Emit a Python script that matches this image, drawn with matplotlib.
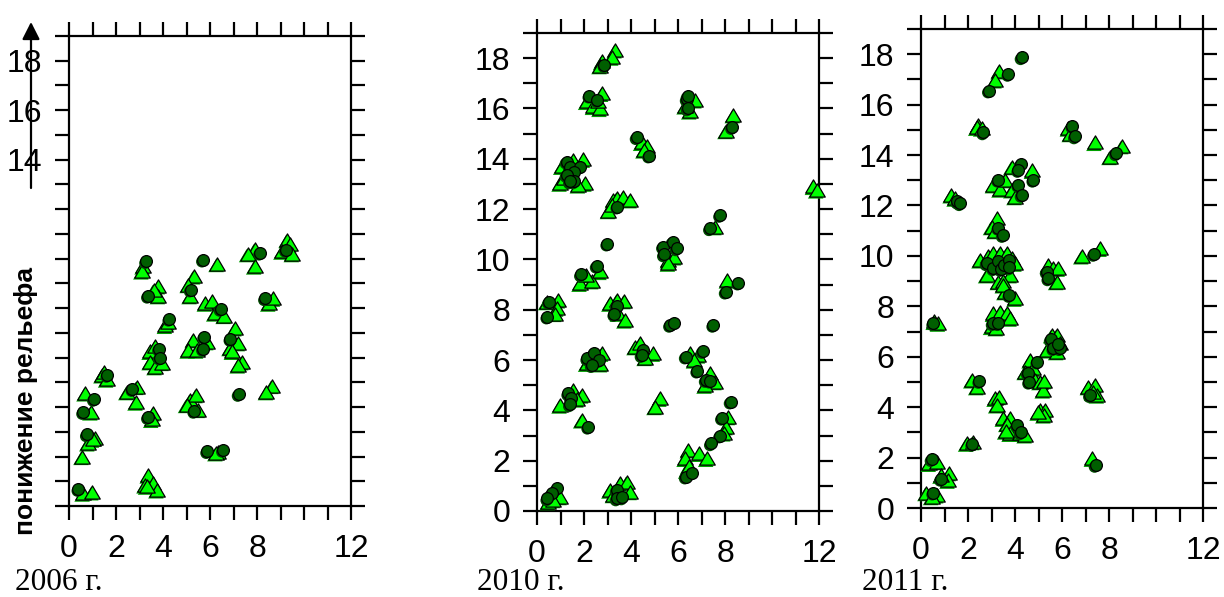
import matplotlib
matplotlib.use("Agg")
import matplotlib.pyplot as plt
from matplotlib.patches import FancyArrowPatch
from matplotlib.path import Path
from matplotlib.transforms import offset_copy

# ---- data: (distance, relief lowering) pairs per survey year ----
years = ["2006 г.", "2010 г.", "2011 г."]
xtick_labels = {0: "0", 2: "2", 4: "4", 6: "6", 8: "8", 12: "12"}
ylabel_text = "понижение рельефа"

circ_2006_x = [9.23, 8.13, 5.7, 3.28, 3.36, 5.18, 8.34, 6.45, 4.27, 6.87, 5.75, 5.7, 3.83, 3.87,
               1.63, 2.7, 7.22, 5.33, 3.36, 1.06, 0.6, 0.76, 5.88, 6.55, 0.4]
circ_2006_y = [10.36, 10.24, 9.96, 9.9, 8.5, 8.75, 8.4, 7.97, 7.57, 6.76, 6.85, 6.36, 6.36, 6.0,
               5.3, 4.73, 4.53, 3.85, 3.6, 4.33, 3.8, 2.9, 2.22, 2.27, 0.69]
tri_2006_x = [9.28, 9.4, 9.06, 9.5, 7.9, 7.6, 7.9, 6.3, 3.15, 3.1, 5.3, 5.07, 5.15, 3.8, 3.8,
              3.6, 8.5, 8.7, 5.8, 6.1, 6.2, 6.6, 4.1, 4.2, 7.06, 7.2, 6.85, 6.95, 7.35, 7.2,
              5.28, 5.86, 5.07, 5.43, 3.45, 3.66, 3.45, 3.66, 3.96, 1.4, 1.6, 1.5, 2.46, 2.88,
              2.85, 8.63, 8.4, 5.15, 5.4, 5.0, 5.5, 3.57, 3.52, 0.68, 0.93, 0.8, 1.1, 1.0, 0.55,
              6.35, 6.25, 3.37, 3.23, 3.58, 3.74, 3.3, 0.6, 0.97]
tri_2006_y = [10.77, 10.6, 10.3, 10.2, 10.4, 10.2, 9.7, 9.8, 9.7, 9.5, 9.3, 8.95, 8.5, 8.9, 8.5,
              8.75, 8.2, 8.4, 8.2, 8.27, 7.8, 7.7, 7.3, 7.45, 7.2, 6.6, 6.4, 6.25, 5.83, 5.7,
              6.72, 6.64, 6.3, 6.3, 6.25, 6.45, 5.83, 5.63, 5.8, 5.3, 5.13, 5.4, 4.62, 4.83,
              4.2, 4.87, 4.62, 4.3, 4.5, 4.1, 3.9, 3.76, 3.5, 4.57, 3.8, 2.55, 2.75, 2.7, 2.0,
              2.2, 2.15, 1.25, 0.85, 0.93, 0.65, 0.8, 0.52, 0.57]

circ_2010_x = [2.87, 2.23, 2.57, 6.37, 6.41, 6.41, 8.3, 4.24, 4.77, 1.26, 1.4, 1.83, 1.57, 1.26,
               1.57, 1.4, 3.42, 2.99, 5.36, 5.77, 5.94, 5.4, 7.36, 7.79, 8.57, 8.03, 1.87, 2.54,
               0.51, 0.44, 3.39, 3.29, 5.66, 5.83, 7.5, 4.52, 4.45, 2.14, 2.43, 2.64, 2.33, 6.33,
               7.05, 6.82, 7.18, 7.36, 1.33, 1.45, 1.4, 2.18, 8.24, 7.87, 7.79, 7.4, 6.33, 6.58,
               3.39, 3.39, 3.63, 0.84, 0.62, 0.44]
circ_2010_y = [17.73, 16.51, 16.34, 16.38, 16.5, 16.0, 15.26, 14.86, 14.13, 13.89, 13.69, 13.69,
               13.49, 13.36, 13.1, 13.1, 12.1, 10.63, 10.51, 10.71, 10.44, 10.2, 11.24, 11.77,
               9.08, 8.72, 9.41, 9.75, 8.32, 7.73, 8.15, 7.83, 7.4, 7.49, 7.4, 6.4, 6.2, 6.07,
               6.3, 6.0, 5.8, 6.14, 6.36, 5.58, 5.21, 5.18, 4.68, 4.48, 4.24, 3.35, 4.35, 3.71,
               3.0, 2.69, 1.37, 1.52, 0.83, 0.5, 0.54, 0.9, 0.7, 0.5]
tri_2010_x = [3.32, 3.18, 2.75, 2.68, 2.75, 2.11, 2.4, 2.68, 2.6, 6.72, 6.5, 6.3, 8.35, 8.04,
              4.45, 4.67, 4.55, 1.05, 1.55, 1.97, 0.98, 2.04, 1.76, 1.15, 3.04, 3.25, 3.39,
              3.67, 3.96, 3.18, 7.57, 5.59, 5.85, 5.59, 8.1, 1.83, 2.33, 2.68, 2.1, 11.76,
              11.9, 0.41, 0.91, 0.84, 0.75, 3.1, 3.39, 3.7, 3.46, 3.74, 4.17, 4.38, 4.95, 4.6,
              2.75, 2.11, 2.7, 6.51, 6.87, 6.7, 7.36, 7.57, 7.15, 0.98, 1.55, 1.9, 1.7, 5.23,
              5.02, 1.9, 8.14, 8.04, 7.95, 6.44, 6.3, 6.91, 7.22, 6.37, 6.45, 3.1, 3.53, 3.82,
              3.96, 3.25, 0.48, 0.98, 0.7]
tri_2010_y = [18.33, 18.04, 17.87, 17.7, 16.6, 16.28, 16.08, 16.0, 16.3, 16.34, 15.9, 16.1,
              15.75, 15.12, 14.65, 14.49, 14.35, 13.7, 13.96, 13.98, 13.03, 13.03, 12.96, 13.25,
              11.94, 12.37, 12.45, 12.5, 12.37, 12.15, 11.3, 9.98, 10.1, 9.85, 9.18, 9.05,
              9.15, 9.52, 9.4, 12.9, 12.76, 8.32, 8.39, 8.06, 7.85, 8.26, 8.39, 8.36, 7.86,
              7.59, 6.53, 6.67, 6.27, 6.1, 6.27, 5.87, 5.85, 6.27, 6.2, 6.0, 5.47, 5.14, 5.0,
              4.21, 4.81, 4.61, 4.45, 4.48, 4.15, 3.62, 3.75, 3.35, 3.1, 2.43, 2.09, 2.29, 2.09,
              1.62, 1.8, 0.83, 1.1, 1.17, 0.77, 0.65, 0.37, 0.57, 0.45]

circ_2011_x = [4.28, 3.72, 2.89, 2.65, 6.44, 6.55, 8.3, 4.24, 4.14, 3.29, 4.78, 4.14, 4.28, 1.55,
               1.66, 3.29, 3.48, 2.79, 3.08, 3.26, 3.4, 3.55, 3.76, 3.76, 5.35, 5.42, 7.36, 3.76,
               3.05, 3.29, 0.52, 5.52, 5.63, 5.91, 5.84, 4.95, 4.54, 4.6, 7.19, 7.43, 2.48, 4.1,
               4.24, 2.18, 0.45, 0.85, 0.52]
circ_2011_y = [17.88, 17.22, 16.56, 14.9, 15.16, 14.74, 14.07, 13.64, 13.41, 13.02, 13.02, 12.82,
               12.42, 12.16, 12.09, 11.12, 10.83, 9.71, 9.51, 9.78, 9.48, 9.64, 9.84, 9.54, 9.38,
               9.11, 10.08, 8.45, 7.33, 7.33, 7.33, 6.69, 6.34, 6.34, 6.5, 5.81, 5.37, 5.01,
               4.48, 1.71, 5.04, 3.29, 3.0, 2.54, 1.94, 1.16, 0.61]
tri_2011_x = [3.32, 3.15, 2.44, 2.37, 2.58, 6.27, 6.35, 7.4, 8.54, 8.04, 3.86, 4.74, 3.08, 3.36,
              3.57, 3.86, 4.0, 1.28, 1.45, 3.25, 3.0, 3.15, 2.51, 2.86, 3.08, 3.36, 3.64, 3.86,
              4.0, 2.79, 3.29, 3.79, 3.5, 5.42, 5.63, 5.84, 5.77, 6.84, 7.62, 3.57, 4.0, 3.5,
              3.08, 3.36, 3.64, 3.79, 3.0, 3.2, 0.56, 0.74, 5.56, 5.77, 5.35, 5.91, 5.77, 4.64,
              4.78, 4.43, 4.85, 5.06, 5.2, 5.25, 5.06, 5.28, 5.23, 4.98, 7.12, 7.4, 7.5, 7.3,
              7.29, 2.16, 2.37, 3.15, 3.33, 3.22, 3.5, 3.79, 3.65, 3.95, 3.79, 4.21, 4.43, 3.6,
              1.94, 2.2, 0.35, 0.67, 1.2, 1.15, 0.85, 0.21, 0.67, 0.45]
tri_2011_y = [17.34, 16.98, 15.2, 15.1, 15.07, 15.07, 14.85, 14.5, 14.37, 13.94, 13.54, 13.39,
              12.82, 12.65, 13.02, 12.62, 12.35, 12.42, 12.29, 11.49, 11.16, 11.0, 9.84, 10.0,
              10.1, 10.13, 10.1, 9.91, 9.71, 9.25, 8.98, 9.25, 9.0, 9.64, 9.51, 9.51, 8.98,
              10.0, 10.3, 8.58, 8.32, 8.85, 7.72, 7.78, 7.72, 7.53, 7.2, 7.15, 7.4, 7.33, 6.87,
              6.87, 6.27, 6.53, 6.2, 5.87, 5.54, 5.41, 5.08, 5.01, 4.68, 5.05, 3.89, 3.89, 3.69,
              3.8, 4.81, 4.88, 4.48, 4.6, 1.97, 5.08, 4.81, 4.35, 4.42, 4.09, 3.56, 3.56, 3.35,
              3.23, 2.96, 2.96, 2.9, 3.05, 2.57, 2.63, 1.77, 1.84, 1.4, 1.1, 1.3, 0.61, 0.52, 0.45]

panels = [
    (circ_2006_x, circ_2006_y, tri_2006_x, tri_2006_y),
    (circ_2010_x, circ_2010_y, tri_2010_x, tri_2010_y),
    (circ_2011_x, circ_2011_y, tri_2011_x, tri_2011_y),
]
# y tick labels shown on each panel
ylabel_sets = [[14, 16, 18], list(range(0, 19, 2)), list(range(0, 19, 2))]

W, H = 1224, 597
fig = plt.figure(figsize=(W / 100, H / 100), dpi=100)

# axes boxes in pixels: left, top, right, bottom
boxes = [(69, 36, 351, 506), (537, 33, 819, 511), (921, 29, 1203, 508)]
year_x = [15, 477, 862]

SANS = "Liberation Sans"
SERIF = "Liberation Serif"

# slightly squat triangle marker
tri_marker = Path([(0, 0.85), (-1, -0.85), (1, -0.85), (0, 0.85)],
                  [Path.MOVETO, Path.LINETO, Path.LINETO, Path.CLOSEPOLY])

for (cx, cy, tx, ty), ylabs, (l, t, r, b), yr, yx in zip(panels, ylabel_sets, boxes, years, year_x):
    ax = fig.add_axes([l / W, (H - b) / H, (r - l) / W, (b - t) / H])
    ax.set_xlim(0, 12)
    ax.set_ylim(0, 19)
    ax.set_xticks(range(13))
    ax.set_yticks(range(20))
    ax.set_xticklabels([xtick_labels.get(v, "") for v in range(13)], fontfamily=SANS, fontsize=23)
    ax.set_yticklabels([str(v) if v in ylabs else "" for v in range(20)], fontfamily=SANS, fontsize=23)
    ax.tick_params(axis="both", direction="out", length=10, width=1.6, top=True, right=True,
                   colors="black")
    ax.tick_params(axis="x", pad=10)
    ax.tick_params(axis="y", pad=9)
    for s in ax.spines.values():
        s.set_linewidth(1.6)

    shadow = offset_copy(ax.transData, fig=fig, x=-1, y=-2, units="dots")
    ax.scatter(tx, ty, marker=tri_marker, s=125, facecolor="#00a000", edgecolor="none",
               zorder=2.8, clip_on=False, transform=shadow)
    ax.scatter(tx, ty, marker=tri_marker, s=125, facecolor="#00ff00", edgecolor="black",
               linewidth=0.9, zorder=3, clip_on=False)
    ax.scatter(cx, cy, marker="o", s=72, facecolor="#004a00", edgecolor="none",
               zorder=3.8, clip_on=False, transform=shadow)
    ax.scatter(cx, cy, marker="o", s=72, facecolor="#005f00", edgecolor="black",
               linewidth=0.9, zorder=4, clip_on=False)

    fig.text(yx / W, 7 / H, yr, fontfamily=SERIF, fontsize=22.5, ha="left", va="baseline")

# vertical axis caption with an upward arrow
fig.text(26 / W, (H - 401) / H, ylabel_text, rotation=90, fontfamily=SANS, fontweight="bold",
         fontsize=19, ha="center", va="center")
fig.add_artist(FancyArrowPatch(
    (31 / W, (H - 188) / H), (31 / W, (H - 22) / H), transform=fig.transFigure,
    arrowstyle="-|>,head_length=0.75,head_width=0.38", mutation_scale=14,
    shrinkA=0, shrinkB=0, color="black", linewidth=1.6))

fig.savefig("out.png", dpi=100)
